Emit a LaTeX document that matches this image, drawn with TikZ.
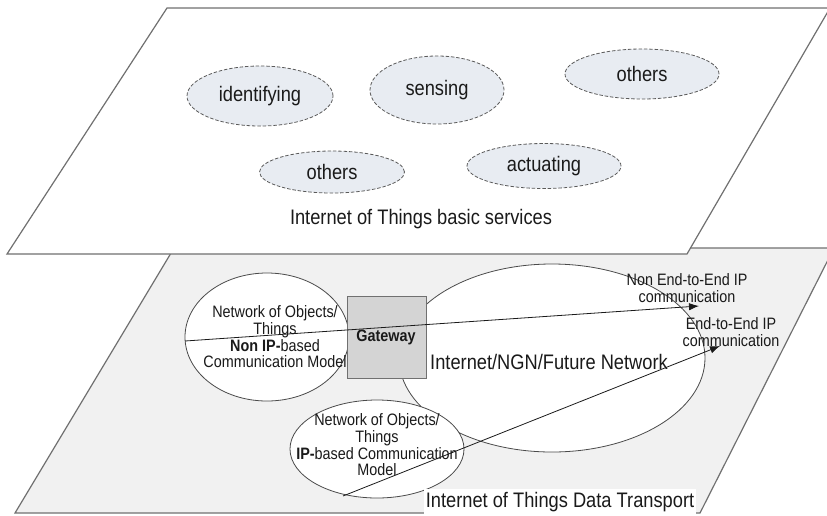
\documentclass[tikz,border=0pt]{standalone}
\usepackage{fontspec}
\setmainfont[FakeStretch=0.87]{Liberation Sans}
\usetikzlibrary{arrows.meta,shapes.geometric}

\definecolor{planeline}{HTML}{707070}
\definecolor{planefill}{HTML}{F1F1F1}
\definecolor{svcfill}{HTML}{E8ECF2}
\definecolor{svcline}{HTML}{5A5A5A}
\definecolor{gwfill}{HTML}{D4D4D4}
\definecolor{netline}{HTML}{4A4A4A}
\definecolor{ink}{HTML}{1A1A1A}

\newcommand\bigtxt{\fontsize{15.75pt}{18pt}\selectfont}
\newcommand\smalltxt{\fontsize{12.4pt}{12.5pt}\selectfont}

\begin{document}
\begin{tikzpicture}[x=0.75pt,y=-0.75pt,
  plane/.style={draw=planeline, line width=0.9pt, line join=miter},
  svc/.style={ellipse, draw=svcline, line width=0.6pt,
    dash pattern=on 2.6pt off 1.4pt, fill=svcfill, inner sep=0pt,
    font=\bigtxt, text=ink},
  net/.style={ellipse, draw=netline, line width=0.6pt, fill=white, inner sep=0pt},
  lbl/.style={font=\bigtxt, text=ink, inner sep=0pt},
  small/.style={font=\smalltxt, text=ink, align=center, inner sep=0pt},
  flow/.style={draw=ink, line width=0.6pt, -{Latex[length=7.5pt,width=5.5pt]}}]

\clip (0,0) rectangle (827,515);

% lower plane: data transport
\path[plane, fill=planefill] (174,248) -- (834,248) -- (700,513) -- (15,513) -- cycle;

\node[net, minimum width=229.5pt, minimum height=141pt] (inet) at (552,358) {};
\node[net, minimum width=123pt, minimum height=96pt] (nonip) at (267,337) {};
\node[net, minimum width=130.5pt, minimum height=73.5pt] (ipnet) at (377,449) {};
\node[draw=planeline, line width=0.7pt, fill=gwfill, minimum width=59.25pt,
      minimum height=61.5pt, inner sep=0pt] (gw) at (386.5,337.5) {};

\node[small] (gwtxt) at (386,337) {\textbf{Gateway}};
\node[small] (nonipt) at (275,337) {Network of Objects/\\Things\\\textbf{Non IP-}based\\Communication Model};
\node[small] (ipt) at (377,445) {Network of Objects/\\Things\\\textbf{IP-}based Communication\\Model};
\node[lbl] (inett) at (549,362) {Internet/NGN/Future Network};
\node[small] (nonee) at (687,288) {Non End-to-End IP\\communication};
\node[small] (ee) at (731,332) {End-to-End IP\\communication};
\node[lbl, fill=white, inner xsep=1.5pt, inner ysep=2.5pt] (dtt) at (560,502) {Internet of Things Data Transport};

\coordinate (s1) at (185,341);
\coordinate (e1) at (699,306);
\coordinate (s2) at (343,496);
\coordinate (e2) at (720,346);
\draw[flow] (s1) -- (e1);
\draw[flow] (s2) -- (e2);

% upper plane: basic services
\path[plane, fill=white] (167,8) -- (830,8) -- (687,254) -- (7,254) -- cycle;

\node[svc, minimum width=109.5pt, minimum height=45pt] (ident) at (260,96) {identifying};
\node[svc, minimum width=100.5pt, minimum height=51pt] (sens) at (437,90) {sensing};
\node[svc, minimum width=115.5pt, minimum height=37.5pt] (oth1) at (642,74) {others};
\node[svc, minimum width=108.75pt, minimum height=31.5pt] (oth2) at (332,172) {others};
\node[svc, minimum width=115.5pt, minimum height=33.75pt] (act) at (544,166) {actuating};
\node[lbl] (bst) at (421,219) {Internet of Things basic services};
\end{tikzpicture}
\end{document}
